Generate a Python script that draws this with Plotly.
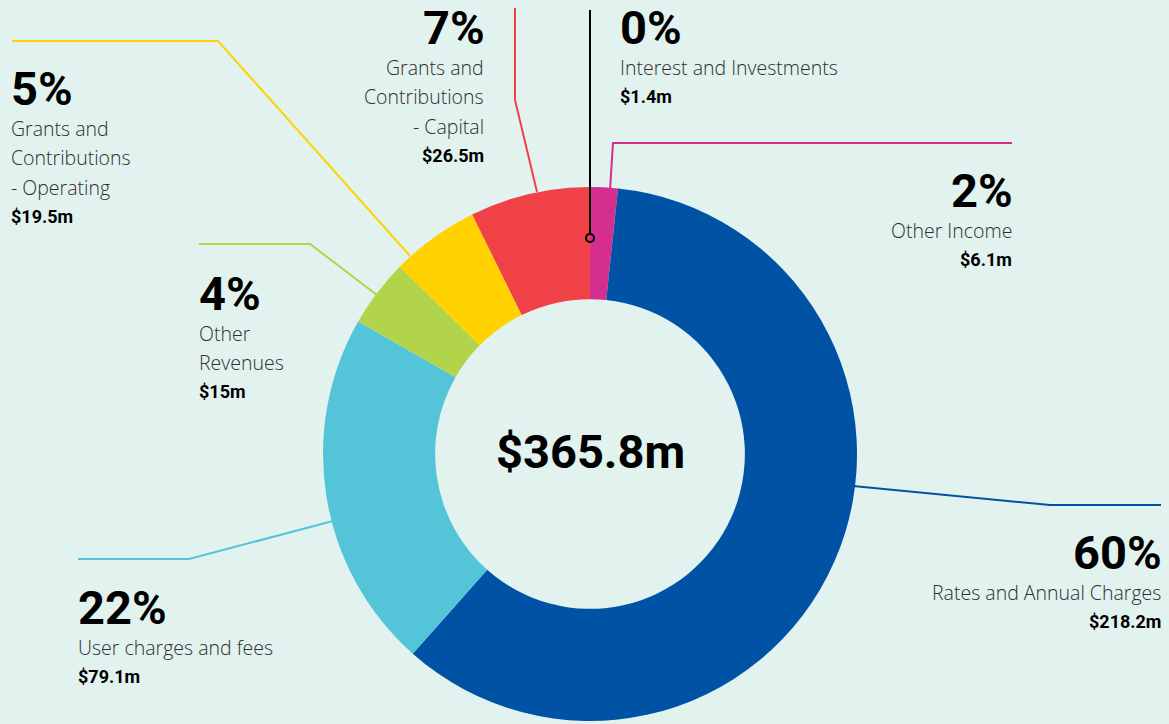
import plotly.graph_objects as go

# ---------------- data ----------------
categories = ["Other Income", "Rates and Annual Charges", "User charges and fees",
              "Other Revenues", "Grants and Contributions - Operating",
              "Grants and Contributions - Capital"]
values = [6.1, 218.2, 79.1, 15.0, 19.5, 26.5]
colors = ["#D42F8F", "#0053A4", "#54C4D9", "#B2D44A", "#FFD200", "#EF4146"]

interest_label = "Interest and Investments"
interest_value = 1.4

total = sum(values) + interest_value

# label line-wrapping (text only)
label_lines = {
    "Other Income": ["Other Income"],
    "Rates and Annual Charges": ["Rates and Annual Charges"],
    "User charges and fees": ["User charges and fees"],
    "Other Revenues": ["Other", "Revenues"],
    "Grants and Contributions - Operating": ["Grants and", "Contributions", "- Operating"],
    "Grants and Contributions - Capital": ["Grants and", "Contributions", "- Capital"],
    "Interest and Investments": ["Interest and Investments"],
}

# ---------------- layout constants (pixels) ----------------
W, H = 1169, 724
CX, CY, R = 590, 454, 267
HOLE = 0.58
BG = "#E2F2EF"

def px(x, y):
    return x / W, 1 - y / H

# label block placement: (x, y of percentage centre, anchor)
blocks = {
    "Grants and Contributions - Operating": (11, 88, "left"),
    "Grants and Contributions - Capital": (484, 27, "right"),
    "Interest and Investments": (620, 27, "left"),
    "Other Income": (1012, 190, "right"),
    "Other Revenues": (199, 293, "left"),
    "User charges and fees": (78, 607, "left"),
    "Rates and Annual Charges": (1161, 552, "right"),
}
PAD = {"left": -2, "right": 2}

# leader line paths (pixels)
leaders = {
    "Grants and Contributions - Operating": ([12, 218, 410], [41, 41, 256]),
    "Grants and Contributions - Capital": ([515, 515, 537], [8, 100, 192]),
    "Interest and Investments": ([590, 590], [10, 234]),
    "Other Income": ([1012, 613, 610], [143, 143, 190]),
    "Other Revenues": ([199, 310, 377], [244, 244, 295]),
    "User charges and fees": ([78, 189, 333], [559, 559, 521]),
    "Rates and Annual Charges": ([1161, 1050, 853], [505, 505, 486]),
}
line_colors = dict(zip(categories, colors))
line_colors["Interest and Investments"] = "#000000"

fig = go.Figure()

x0, y0 = (CX - R) / W, (H - CY - R) / H
x1, y1 = (CX + R) / W, (H - CY + R) / H
fig.add_trace(go.Pie(
    labels=categories, values=values, hole=HOLE, sort=False,
    direction="clockwise", rotation=0,
    marker=dict(colors=colors, line=dict(width=0)),
    textinfo="none", hoverinfo="label+value", showlegend=False,
    domain=dict(x=[x0, x1], y=[y0, y1]),
))

shapes = []
for name, (xs, ys) in leaders.items():
    path = ""
    for i, (xx, yy) in enumerate(zip(xs, ys)):
        fx, fy = px(xx, yy)
        path += ("M" if i == 0 else " L") + f" {fx} {fy}"
    shapes.append(dict(type="path", path=path, xref="paper", yref="paper",
                       line=dict(color=line_colors[name], width=2)))
# dot at end of interest leader
dx0, dy0 = px(586, 234)
dx1, dy1 = px(594, 242)
shapes.append(dict(type="circle", xref="paper", yref="paper",
                   x0=dx0, y0=dy1, x1=dx1, y1=dy0,
                   line=dict(color="#000000", width=2), fillcolor="rgba(0,0,0,0)"))

annotations = []
all_vals = dict(zip(categories, values))
all_vals[interest_label] = interest_value
for name, (bx, by, anchor) in blocks.items():
    v = all_vals[name]
    bx = bx + PAD[anchor]
    pct = f"{round(v / total * 100):.0f}%"
    fx, fy = px(bx + (1 if anchor == "right" else 0), by)
    annotations.append(dict(text=f"<b>{pct}</b>", x=fx, y=fy, xref="paper", yref="paper",
                            xanchor=anchor, yanchor="middle", showarrow=False,
                            font=dict(family="Roboto", size=47, color="#000000")))
    yy = by + 40
    for ln in label_lines[name]:
        fx, fy = px(bx, yy)
        annotations.append(dict(text=ln, x=fx, y=fy, xref="paper", yref="paper",
                                xanchor=anchor, yanchor="middle", showarrow=False,
                                font=dict(family="Open Sans", size=19.5, color="#2e2e2e",
                                          weight=300)))
        yy += 29.5
    vtxt = f"${v:g}m"
    fx, fy = px(bx, yy)
    annotations.append(dict(text=f"<b>{vtxt}</b>", x=fx, y=fy, xref="paper", yref="paper",
                            xanchor=anchor, yanchor="middle", showarrow=False,
                            font=dict(family="Roboto", size=18, color="#000000")))

fx, fy = px(CX, 452)
annotations.append(dict(text=f"<b>${total:.1f}m</b>", x=fx, y=fy, xref="paper", yref="paper",
                        xanchor="center", yanchor="middle", showarrow=False,
                        font=dict(family="Roboto", size=47, color="#000000")))

fig.update_layout(
    width=W, height=H, margin=dict(l=0, r=0, t=0, b=0),
    paper_bgcolor=BG, plot_bgcolor=BG,
    shapes=shapes, annotations=annotations, showlegend=False,
)

fig.write_html("out.html", config={"displayModeBar": False},
               post_script="document.body.style.margin='0';document.body.style.overflow='hidden';")
